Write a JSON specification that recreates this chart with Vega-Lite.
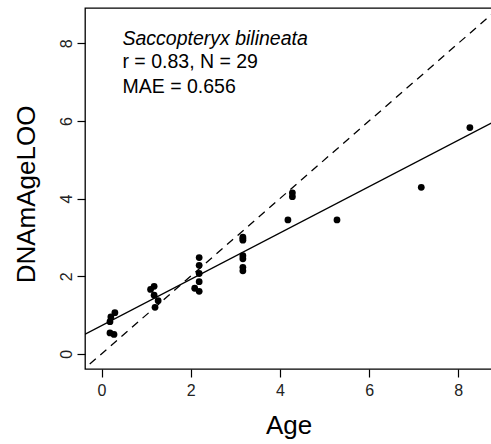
{
  "$schema": "https://vega.github.io/schema/vega-lite/v6.json",
  "autosize": {"type": "none"},
  "padding": {"left": 85, "top": 8, "right": 0, "bottom": 75},
  "width": 407,
  "height": 361,
  "background": "white",
  "config": {
    "view": {"stroke": "black", "strokeWidth": 1.3},
    "font": "Liberation Sans",
    "axis": {
      "grid": false,
      "domain": false,
      "ticks": true,
      "tickColor": "black",
      "tickSize": 8,
      "tickWidth": 1.2,
      "labelFont": "Liberation Sans",
      "labelFontSize": 16,
      "labelColor": "#222222",
      "titleFont": "Liberation Sans",
      "titleFontSize": 26,
      "titleFontWeight": "normal",
      "titleColor": "black"
    }
  },
  "datasets": {
    "pts": [
      {"age": 0.30, "pred": 1.06}, {"age": 0.21, "pred": 0.95}, {"age": 0.19, "pred": 0.83},
      {"age": 0.19, "pred": 0.54}, {"age": 0.28, "pred": 0.50},
      {"age": 1.18, "pred": 1.74}, {"age": 1.10, "pred": 1.66}, {"age": 1.18, "pred": 1.51},
      {"age": 1.27, "pred": 1.37}, {"age": 1.20, "pred": 1.20},
      {"age": 2.19, "pred": 2.48}, {"age": 2.19, "pred": 2.28}, {"age": 2.19, "pred": 2.07},
      {"age": 2.19, "pred": 1.86}, {"age": 2.09, "pred": 1.69}, {"age": 2.19, "pred": 1.61},
      {"age": 3.17, "pred": 3.01}, {"age": 3.17, "pred": 2.93}, {"age": 3.17, "pred": 2.97},
      {"age": 3.17, "pred": 2.53}, {"age": 3.17, "pred": 2.45}, {"age": 3.17, "pred": 2.23},
      {"age": 3.17, "pred": 2.14},
      {"age": 4.28, "pred": 4.15}, {"age": 4.28, "pred": 4.05}, {"age": 4.18, "pred": 3.45},
      {"age": 5.28, "pred": 3.45}, {"age": 7.17, "pred": 4.29}, {"age": 8.26, "pred": 5.83}
    ],
    "fit": [{"age": -0.5, "pred": 0.43}, {"age": 9.0, "pred": 6.10}],
    "ident": [{"age": -0.5, "pred": -0.5}, {"age": 9.2, "pred": 9.2}],
    "title": [{"age": 0.47, "pred": 7.96, "label": "Saccopteryx bilineata"}],
    "stats": [
      {"age": 0.47, "pred": 7.36, "label": "r = 0.83, N = 29"},
      {"age": 0.47, "pred": 6.73, "label": "MAE = 0.656"}
    ]
  },
  "encoding": {
    "x": {
      "field": "age", "type": "quantitative",
      "scale": {"domain": [-0.37, 8.756], "nice": false, "zero": false},
      "axis": {
        "values": [0, 2, 4, 6, 8], "title": "Age",
        "labelPadding": 5, "labelBaseline": "top",
        "titleY": 64, "titleBaseline": "alphabetic"
      }
    },
    "y": {
      "field": "pred", "type": "quantitative",
      "scale": {"domain": [-0.39, 8.91], "nice": false, "zero": false},
      "axis": {
        "values": [0, 2, 4, 6, 8], "title": "DNAmAgeLOO",
        "labelAngle": 270, "labelAlign": "center", "labelBaseline": "alphabetic",
        "labelPadding": 6,
        "titleAngle": 270, "titleAlign": "center", "titleBaseline": "alphabetic",
        "titleX": -51, "titleY": 186
      }
    }
  },
  "layer": [
    {
      "data": {"name": "ident"},
      "mark": {"type": "line", "color": "black", "strokeWidth": 1.3, "strokeDash": [8, 6], "clip": true}
    },
    {
      "data": {"name": "fit"},
      "mark": {"type": "line", "color": "black", "strokeWidth": 1.3, "clip": true}
    },
    {
      "data": {"name": "pts"},
      "mark": {"type": "circle", "color": "black", "opacity": 1, "size": 46}
    },
    {
      "data": {"name": "title"},
      "mark": {"type": "text", "align": "left", "baseline": "alphabetic", "fontSize": 19.5, "fontStyle": "italic", "color": "black"},
      "encoding": {"text": {"field": "label"}}
    },
    {
      "data": {"name": "stats"},
      "mark": {"type": "text", "align": "left", "baseline": "alphabetic", "fontSize": 19.5, "color": "black"},
      "encoding": {"text": {"field": "label"}}
    }
  ]
}
